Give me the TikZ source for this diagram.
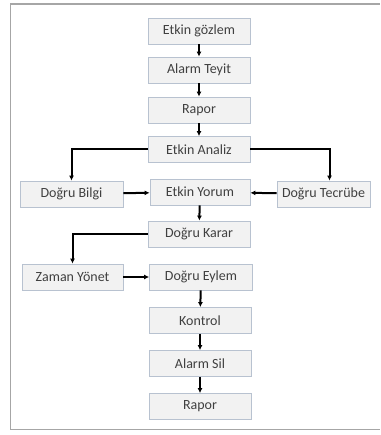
\documentclass[tikz,border=0pt]{standalone}
\usepackage{fontspec}
\setmainfont{Carlito}
\usetikzlibrary{arrows.meta}
\definecolor{kutuzemin}{HTML}{F2F2F2}
\definecolor{kutukenar}{HTML}{B8C2D0}
\definecolor{yazi}{HTML}{404040}
\definecolor{cerceve}{HTML}{A6A6A6}
\begin{document}
\begin{tikzpicture}[x=1pt,y=-1pt,>={Latex[length=5pt,width=5pt]},
  kutu/.style={draw=kutukenar,fill=kutuzemin,line width=0.8pt,minimum width=102pt,
    minimum height=26pt,inner sep=0pt,text=yazi,font=\fontsize{14}{16}\selectfont},
  ok/.style={->,line width=2pt,black}]
%
% Rahmen und Bildgroesse
\useasboundingbox (0,0) rectangle (380,435);
\draw[cerceve,line width=2.5pt] (10,4) -- (380,4);
\draw[cerceve,line width=1pt] (10,4) -- (10,429) -- (380,429);
%
% Hauptkette oben
\node[kutu] (gozlem) at (199,31) {Etkin gözlem};
\node[kutu] (teyit) at (199,70) {Alarm Teyit};
\node[kutu] (rapor1) at (199,110) {Rapor};
\node[kutu] (analiz) at (199,149.5) {Etkin Analiz};
%
% Mittlere Reihe
\node[kutu,minimum width=103pt] (bilgi) at (71.5,194) {Doğru Bilgi};
\node[kutu,minimum width=100pt] (yorum) at (200,192) {Etkin Yorum};
\node[kutu,minimum width=93pt] (tecrube) at (323.5,194) {Doğru Tecrübe};
\node[kutu] (karar) at (199,234) {Doğru Karar};
\node[kutu,minimum width=101pt] (zaman) at (72.5,277) {Zaman Yönet};
\node[kutu,minimum width=103pt] (eylem) at (201,277) {Doğru Eylem};
%
% Hauptkette unten
\node[kutu] (kontrol) at (200,320.5) {Kontrol};
\node[kutu] (sil) at (200,363.5) {Alarm Sil};
\node[kutu] (rapor2) at (200,406.5) {Rapor};
%
% Pfeile
\draw[ok] (gozlem) -- (teyit);
\draw[ok] (teyit) -- (rapor1);
\draw[ok] (rapor1) -- (analiz);
\draw[ok] (analiz.west) -| (bilgi.north);
\draw[ok] (analiz.east) -| ([xshift=6pt]tecrube.north);
\draw[ok] (bilgi) -- (yorum);
\draw[ok] (tecrube) -- (yorum);
\draw[ok] (yorum) -- (karar);
\draw[ok] (karar.west) -| (zaman.north);
\draw[ok] (zaman) -- (eylem);
\draw[ok] (eylem) -- (kontrol);
\draw[ok] (kontrol) -- (sil);
\draw[ok] (sil) -- (rapor2);
\end{tikzpicture}
\end{document}
